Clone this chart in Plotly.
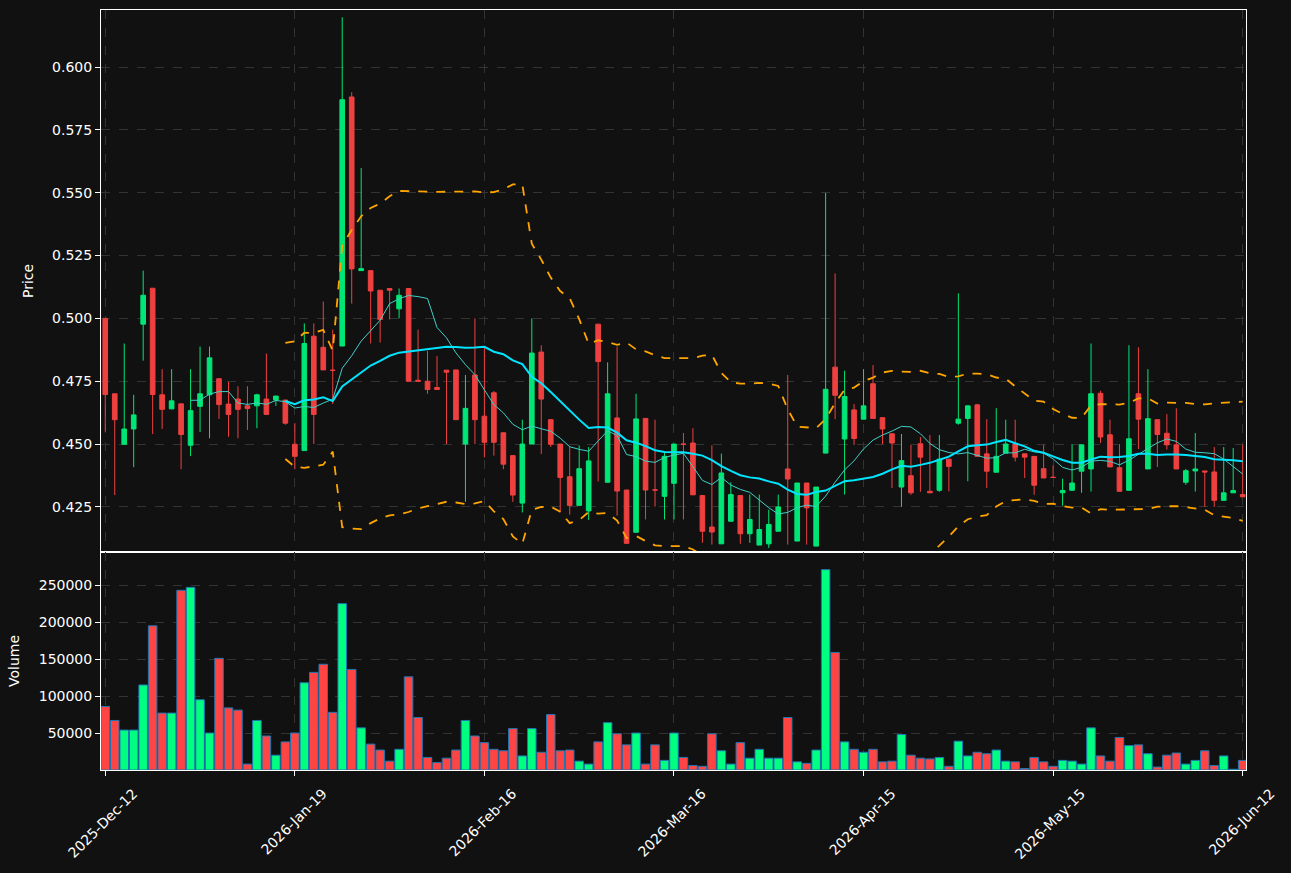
import pandas as pd
import plotly.graph_objects as go
from plotly.subplots import make_subplots

# daily OHLC (index = trading day)
opens = [0.500, 0.470, 0.4499, 0.456, 0.4977, 0.512, 0.4696, 0.464, 0.466, 0.4495,
         0.465, 0.4696, 0.476, 0.4659, 0.4679, 0.4652, 0.4652, 0.4679, 0.4675, 0.4675,
         0.4499, 0.4474, 0.4929, 0.4885, 0.4794, 0.489, 0.5881, 0.519, 0.519, 0.5112,
         0.5119, 0.5038, 0.5119, 0.4754, 0.475, 0.4725, 0.4794, 0.4795, 0.450, 0.4775,
         0.4611, 0.4704, 0.4545, 0.4454, 0.4265, 0.450, 0.4866, 0.4597, 0.450, 0.437,
         0.4256, 0.4234, 0.4977, 0.4348, 0.4604, 0.4317, 0.4149, 0.4602, 0.4318, 0.4292,
         0.4344, 0.450, 0.4504, 0.4295, 0.417, 0.4103, 0.4193, 0.4295, 0.4143, 0.4098,
         0.4103, 0.4153, 0.4401, 0.4114, 0.4345, 0.4094, 0.4464, 0.4806, 0.452, 0.4636,
         0.4599, 0.474, 0.4605, 0.4541, 0.4329, 0.4374, 0.4501, 0.4312, 0.4316, 0.444,
         0.4583, 0.4602, 0.4656, 0.4461, 0.4388, 0.4464, 0.450, 0.4461, 0.4451, 0.4402,
         0.4368, 0.4306, 0.4316, 0.4392, 0.4401, 0.4702, 0.4537, 0.4406, 0.4316, 0.470,
         0.4401, 0.4597, 0.4543, 0.4497, 0.4348, 0.4393, 0.4393, 0.4389, 0.4276, 0.4306,
         0.4299]
highs = [0.500, 0.470, 0.490, 0.4696, 0.519, 0.512, 0.4798, 0.4798, 0.466, 0.4798,
         0.4888, 0.4888, 0.476, 0.4747, 0.473, 0.473, 0.470, 0.486, 0.4691, 0.4675,
         0.4583, 0.498, 0.498, 0.5067, 0.4955, 0.6198, 0.590, 0.5598, 0.519, 0.5112,
         0.5119, 0.5119, 0.5119, 0.4955, 0.487, 0.485, 0.4794, 0.4795, 0.4775, 0.500,
         0.489, 0.4711, 0.4545, 0.4454, 0.4597, 0.500, 0.4893, 0.460, 0.450, 0.449,
         0.4495, 0.4488, 0.4977, 0.4825, 0.4888, 0.4317, 0.470, 0.4602, 0.4597, 0.4465,
         0.450, 0.4544, 0.4563, 0.4295, 0.4495, 0.4462, 0.4348, 0.4295, 0.4299, 0.4299,
         0.4239, 0.4299, 0.4775, 0.4345, 0.4345, 0.4329, 0.5499, 0.5179, 0.4792, 0.4659,
         0.4798, 0.4814, 0.4605, 0.4541, 0.454, 0.4497, 0.4528, 0.4536, 0.4536, 0.444,
         0.510, 0.4652, 0.466, 0.4599, 0.4643, 0.4597, 0.4597, 0.4461, 0.4451, 0.4497,
         0.4415, 0.4362, 0.450, 0.4497, 0.490, 0.4712, 0.4597, 0.450, 0.4893, 0.4885,
         0.4798, 0.4597, 0.4619, 0.4642, 0.4401, 0.4544, 0.4393, 0.4488, 0.4488, 0.4484,
         0.4497]
lows = [0.4549, 0.4297, 0.4499, 0.4408, 0.4832, 0.454, 0.456, 0.4638, 0.440, 0.4452,
        0.4548, 0.4523, 0.460, 0.4529, 0.4523, 0.4556, 0.4563, 0.4618, 0.4652, 0.4577,
        0.440, 0.4474, 0.450, 0.4795, 0.4659, 0.489, 0.5059, 0.519, 0.490, 0.4904,
        0.4996, 0.500, 0.475, 0.475, 0.470, 0.4717, 0.450, 0.4597, 0.427, 0.450,
        0.4447, 0.4454, 0.440, 0.427, 0.4228, 0.450, 0.446, 0.4488, 0.4228, 0.4219,
        0.4256, 0.4198, 0.4351, 0.4348, 0.4215, 0.4105, 0.4149, 0.420, 0.4251, 0.420,
        0.420, 0.420, 0.4298, 0.4107, 0.410, 0.4103, 0.4193, 0.4103, 0.4107, 0.4098,
        0.4087, 0.4153, 0.410, 0.4114, 0.410, 0.4094, 0.4464, 0.4599, 0.4299, 0.4496,
        0.4599, 0.4602, 0.450, 0.4325, 0.425, 0.4298, 0.431, 0.4306, 0.431, 0.4312,
        0.4577, 0.4352, 0.4451, 0.4325, 0.4388, 0.4464, 0.4431, 0.4365, 0.4298, 0.4365,
        0.4365, 0.4255, 0.4316, 0.4306, 0.4311, 0.4504, 0.4409, 0.4312, 0.4316, 0.448,
        0.4401, 0.4409, 0.4478, 0.4401, 0.4338, 0.4311, 0.425, 0.425, 0.4276, 0.4306,
        0.429]
closes = [0.4697, 0.4597, 0.456, 0.4616, 0.5092, 0.4697, 0.4638, 0.4672, 0.4538, 0.4633,
          0.470, 0.4843, 0.4657, 0.4618, 0.4638, 0.4641, 0.4696, 0.4618, 0.4691, 0.4583,
          0.4451, 0.490, 0.4618, 0.4795, 0.4793, 0.587, 0.5197, 0.5198, 0.5109, 0.4996,
          0.5112, 0.5092, 0.475, 0.475, 0.4717, 0.4717, 0.4786, 0.4597, 0.4642, 0.4597,
          0.4507, 0.4507, 0.442, 0.4297, 0.450, 0.4862, 0.4679, 0.4499, 0.4367, 0.4256,
          0.4402, 0.4433, 0.4828, 0.470, 0.4313, 0.4105, 0.460, 0.4317, 0.4317, 0.4451,
          0.450, 0.4499, 0.4298, 0.4153, 0.415, 0.4385, 0.4299, 0.4143, 0.420, 0.416,
          0.418, 0.425, 0.4361, 0.4345, 0.4246, 0.4329, 0.4718, 0.4694, 0.4689, 0.4522,
          0.4652, 0.4602, 0.456, 0.4504, 0.4434, 0.4306, 0.4448, 0.4306, 0.444, 0.4411,
          0.4599, 0.4652, 0.4451, 0.4392, 0.4451, 0.450, 0.4448, 0.4448, 0.4336, 0.4365,
          0.4367, 0.4315, 0.4345, 0.4497, 0.470, 0.4528, 0.4409, 0.4312, 0.4521, 0.4599,
          0.4601, 0.4538, 0.4497, 0.4401, 0.4394, 0.4401, 0.4389, 0.4276, 0.4306, 0.4315,
          0.429]
volumes = [86000, 67000, 54000, 54000, 115000, 195000, 77000, 77000, 243000, 247000,
           95000, 50000, 151000, 84000, 81000, 8000, 67000, 46000, 20000, 38000,
           50000, 118000, 132000, 143000, 78000, 225000, 136000, 57000, 35000, 27000,
           12000, 28000, 126000, 71000, 17000, 10000, 16000, 27000, 67000, 46000,
           37000, 28000, 26000, 56000, 19000, 56000, 24000, 75000, 26000, 27000,
           12000, 8000, 38000, 64000, 49000, 34000, 50000, 8000, 34000, 13000,
           50000, 17000, 6000, 5000, 49000, 26000, 8000, 37000, 16000, 28000,
           16000, 16000, 71000, 11000, 9000, 27000, 271000, 159000, 38000, 28000,
           24000, 28000, 11000, 12000, 48000, 20000, 16000, 15000, 17000, 5000,
           39000, 19000, 24000, 22000, 27000, 12000, 11000, 2000, 17000, 11000,
           5000, 13000, 12000, 8000, 57000, 19000, 12000, 44000, 33000, 34000,
           22000, 4000, 20000, 23000, 8000, 13000, 26000, 6000, 19000, 1000,
           13000]

tick_pos = [0, 20, 40, 60, 80, 100, 120]
tick_labels = ["2025-Dec-12", "2026-Jan-19", "2026-Feb-16", "2026-Mar-16",
               "2026-Apr-15", "2026-May-15", "2026-Jun-12"]

UP = "#00e676"
DOWN = "#ef4040"
BG = "#111111"

df = pd.DataFrame({"open": opens, "high": highs, "low": lows, "close": closes, "volume": volumes})
df["sma10"] = df["close"].rolling(10).mean()
df["sma20"] = df["close"].rolling(20).mean()
sd = df["close"].rolling(20).std(ddof=0)
df["bb_up"] = df["sma20"] + 2 * sd
df["bb_dn"] = df["sma20"] - 2 * sd
x = list(range(len(df)))

fig = make_subplots(rows=2, cols=1, shared_xaxes=True, vertical_spacing=0.0,
                    row_heights=[0.713, 0.287])

fig.add_trace(go.Candlestick(
    x=x, open=df["open"], high=df["high"], low=df["low"], close=df["close"],
    increasing=dict(line=dict(color=UP, width=1), fillcolor=UP),
    decreasing=dict(line=dict(color=DOWN, width=1), fillcolor=DOWN),
    whiskerwidth=0, showlegend=False), row=1, col=1)
fig.add_trace(go.Scatter(x=x, y=df["bb_up"], mode="lines",
                         line=dict(color="orange", width=1.8, dash="dash"), showlegend=False), row=1, col=1)
fig.add_trace(go.Scatter(x=x, y=df["bb_dn"], mode="lines",
                         line=dict(color="orange", width=1.8, dash="dash"), showlegend=False), row=1, col=1)
fig.add_trace(go.Scatter(x=x, y=df["sma10"], mode="lines",
                         line=dict(color="#40d0c8", width=1), showlegend=False), row=1, col=1)
fig.add_trace(go.Scatter(x=x, y=df["sma20"], mode="lines",
                         line=dict(color="#00e5ff", width=2), showlegend=False), row=1, col=1)

vcol = ["#00ff80" if c >= o else "#ff4444" for o, c in zip(df["open"], df["close"])]
fig.add_trace(go.Bar(x=x, y=df["volume"], marker=dict(color=vcol, line=dict(color="#1f77b4", width=1)),
                     width=0.9, showlegend=False), row=2, col=1)

grid = dict(showgrid=True, gridcolor="#333333", griddash="dash", gridwidth=1,
            showline=True, linecolor="white", mirror=True, zeroline=False,
            tickfont=dict(color="white", size=14), ticks="outside", tickcolor="white")
fig.update_xaxes(**grid, range=[-0.45, 120.35], tickvals=tick_pos, ticktext=tick_labels,
                 rangeslider_visible=False)
fig.update_xaxes(showticklabels=False, row=1, col=1)
fig.update_xaxes(tickangle=-45, ticklabelshift=28, ticklabelstandoff=4, row=2, col=1)
fig.update_yaxes(**grid)
fig.update_yaxes(range=[0.4071, 0.6227], tickformat=".3f", dtick=0.025,
                 title=dict(text="Price", font=dict(color="white", size=14)), row=1, col=1)
fig.update_yaxes(range=[0, 295000], tickvals=[50000, 100000, 150000, 200000, 250000],
                 ticktext=["50000", "100000", "150000", "200000", "250000"],
                 title=dict(text="Volume", font=dict(color="white", size=14)), row=2, col=1)

fig.update_layout(width=1291, height=873, paper_bgcolor=BG, plot_bgcolor=BG,
                  margin=dict(l=101, r=45, t=10, b=103), bargap=0.05,
                  font=dict(family="DejaVu Sans", color="white"))
fig.write_html("out.html", config={"displayModeBar": False},
               post_script="document.body.style.margin='0';document.body.style.background='#111111';")
